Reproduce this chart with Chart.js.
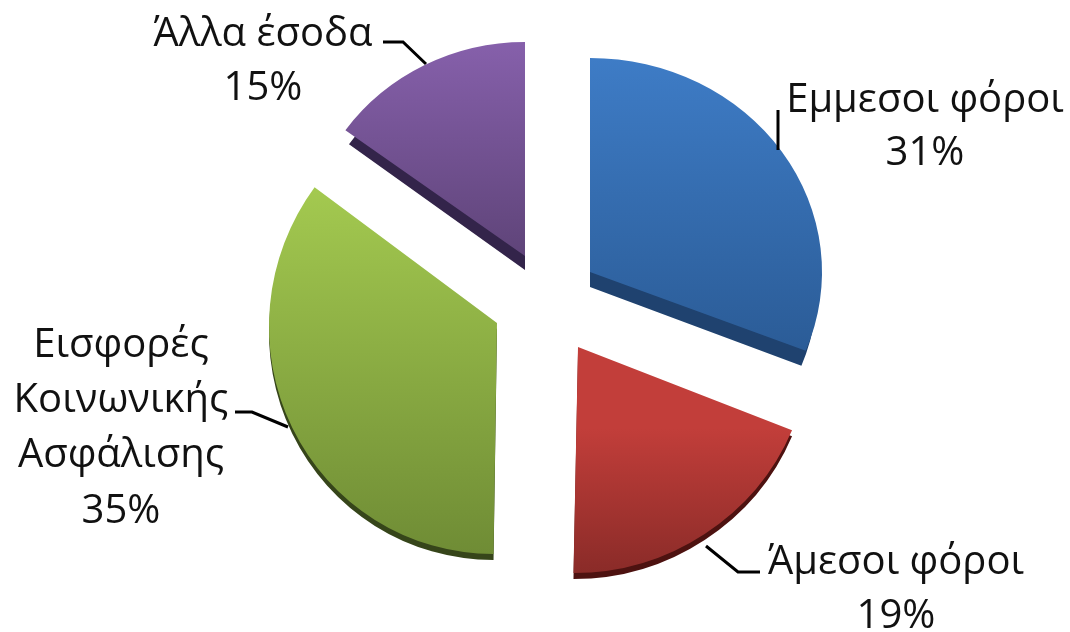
<!DOCTYPE html>
<html><head><meta charset="utf-8">
<style>html,body{margin:0;padding:0;background:#fff}#w{width:1070px;height:632px}</style>
<script src="https://cdn.jsdelivr.net/npm/chart.js@4"></script>
</head><body><div id="w"><canvas id="c" width="1070" height="632"></canvas></div>
<script>
const categories = ['Εμμεσοι φόροι', 'Άμεσοι φόροι', 'Εισφορές Κοινωνικής Ασφάλισης', 'Άλλα έσοδα'];
const shares = [31, 19, 35, 15];
const topColors = ['#3e7cc6', '#c23e3a', '#a4ca50', '#8660ab'];
const bottomColors = ['#2b5c97', '#8a2b28', '#6f8c35', '#5f4479'];
const sideColors = ['#1f426f', '#4d1210', '#36451a', '#33244a'];
const gradStops = [[0, 0.68], [0.68, 1], [0.2, 1], [0, 0.5]];
const apexX = [590, 578, 497, 525];
const apexY = [272, 347, 323, 256];
const radiusX = [232, 232, 228, 222];
const radiusY = [214, 226, 231, 214];
const shear = [0, -0.02, -0.015, 0];
const depth = [15, 6, 6, 14];
const sideScale = [0.98, 1, 1, 0.98];
const labelLines = [
  {lines: ['Εμμεσοι φόροι'], pct: 0, x: 925, y: 112, pctY: 165},
  {lines: ['Άμεσοι φόροι'], pct: 1, x: 896, y: 574, pctY: 628},
  {lines: ['Εισφορές', 'Κοινωνικής', 'Ασφάλισης'], pct: 2, x: 121, y: 357, pctY: 523},
  {lines: ['Άλλα έσοδα'], pct: 3, x: 263, y: 46, pctY: 100}
];
const leaders = [
  [[778, 110], [778, 150]],
  [[706, 546], [738, 572], [760, 572]],
  [[235, 412], [252, 412], [288, 427]],
  [[383, 42], [403, 42], [426, 64]]
];
const BASE_R = 200;

const pie3d = {
  id: 'pie3d',
  beforeDatasetDraw(chart) {
    const ctx = chart.ctx, meta = chart.getDatasetMeta(0);
    const place = (arc, i, k, dy) => {
      ctx.translate(apexX[i], apexY[i] + dy);
      ctx.transform(1, 0, shear[i], 1, 0, 0);
      ctx.scale(k * radiusX[i] / BASE_R, radiusY[i] / BASE_R);
      ctx.translate(-arc.x, -arc.y);
    };
    meta.data.forEach((arc, i) => {
      const o = arc.options;
      ctx.save();
      ctx.filter = 'blur(0.6px)';
      place(arc, i, sideScale[i], depth[i]);
      arc.options = Object.assign(Object.create(o), {backgroundColor: sideColors[i], borderColor: sideColors[i]});
      arc.draw(ctx);
      arc.options = o;
      ctx.restore();
      ctx.save();
      ctx.filter = 'blur(0.6px)';
      place(arc, i, 1, 0);
      arc.draw(ctx);
      ctx.restore();
    });
    return false;
  },
  afterDraw(chart) {
    const ctx = chart.ctx;
    ctx.save();
    ctx.filter = 'blur(0.5px)';
    ctx.strokeStyle = '#000';
    ctx.lineWidth = 3;
    leaders.forEach(l => {
      ctx.beginPath();
      l.forEach((p, i) => i ? ctx.lineTo(p[0], p[1]) : ctx.moveTo(p[0], p[1]));
      ctx.stroke();
    });
    ctx.fillStyle = '#111';
    ctx.font = '40px "Open Sans"';
    ctx.textAlign = 'center';
    ctx.textBaseline = 'alphabetic';
    labelLines.forEach(l => {
      let y = l.y;
      l.lines.forEach(t => { ctx.fillText(t, l.x, y); y += 55; });
      ctx.fillText(shares[l.pct] + '%', l.x, l.pctY);
    });
    ctx.restore();
  }
};
new Chart(document.getElementById('c'), {
  type: 'pie',
  data: {
    labels: categories,
    datasets: [{
      data: shares,
      borderWidth: 0,
      radius: BASE_R,
      backgroundColor(c) {
        const i = c.dataIndex, cy = c.chart.height / 2;
        const g = c.chart.ctx.createLinearGradient(0, cy - BASE_R, 0, cy + BASE_R);
        g.addColorStop(gradStops[i][0], topColors[i]);
        g.addColorStop(gradStops[i][1], bottomColors[i]);
        return g;
      }
    }]
  },
  options: {
    responsive: false,
    animation: false,
    layout: {padding: 0},
    plugins: {legend: {display: false}, tooltip: {enabled: false}}
  },
  plugins: [pie3d]
});
</script></body></html>
